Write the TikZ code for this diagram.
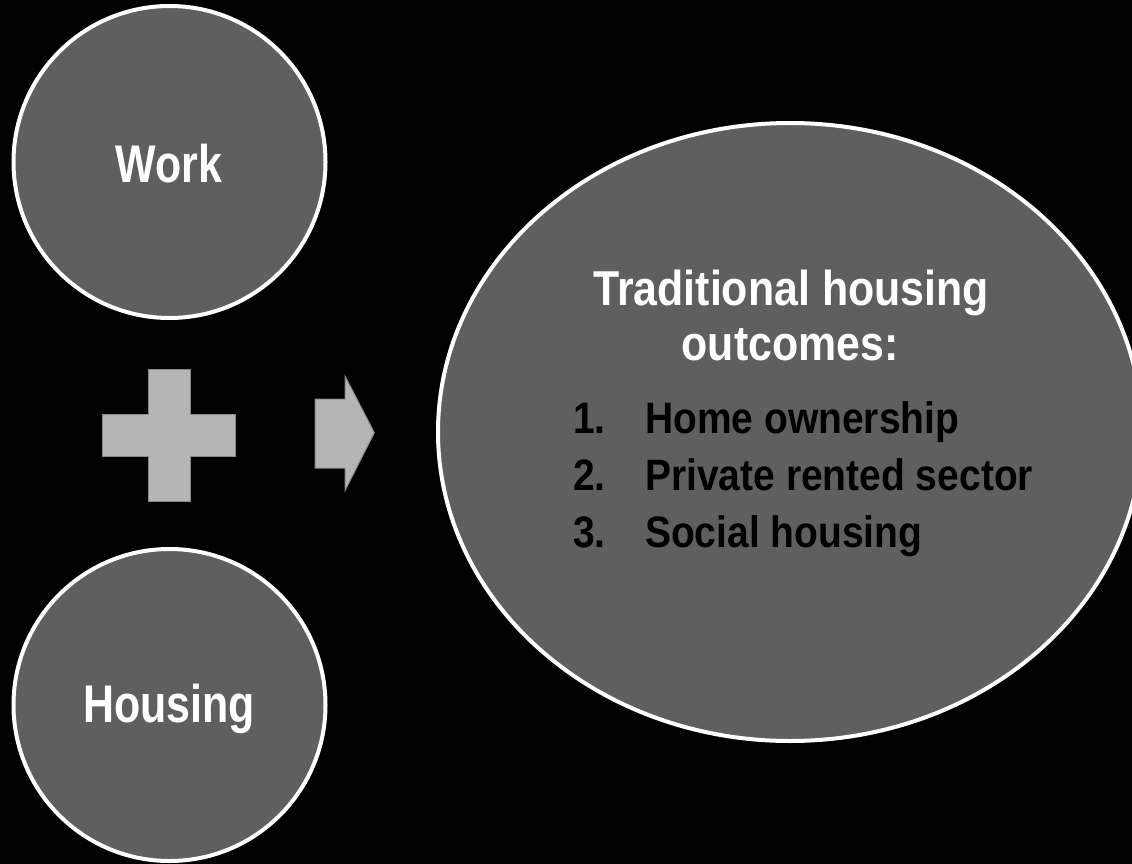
\documentclass[tikz,border=0pt]{standalone}
\usepackage{fontspec}
\setmainfont{Liberation Sans}
\newfontfamily\discfont{Liberation Sans}[FakeStretch=0.81]
\newfontfamily\headfont{Liberation Sans}[FakeStretch=0.875]
\newfontfamily\itemfont{Liberation Sans}[FakeStretch=0.886]
\usetikzlibrary{shapes.geometric}

\definecolor{discfill}{HTML}{5F5F5F}
\definecolor{signfill}{HTML}{B5B5B5}
\definecolor{signedge}{HTML}{8A8A8A}

\tikzset{
  disc/.style={circle, draw=white, line width=4pt, fill=discfill,
               minimum size=312pt, inner sep=0pt},
  bigdisc/.style={ellipse, draw=white, line width=4pt, fill=discfill,
                  minimum width=704pt, minimum height=618pt, inner sep=0pt},
  sign/.style={fill=signfill, draw=signedge, line width=1pt, line join=miter},
  disclabel/.style={anchor=base, inner sep=0pt, text=white,
                    font=\discfont\bfseries\fontsize{53}{60}\selectfont},
  headline/.style={anchor=base, inner sep=0pt, text=white,
                   font=\headfont\bfseries\fontsize{49}{55}\selectfont},
  listitem/.style={anchor=base west, inner sep=0pt, text=black,
                   font=\itemfont\bfseries\fontsize{44}{57}\selectfont}
}

\begin{document}
\begin{tikzpicture}[x=1pt, y=-1pt]
  % background and frame
  \fill[black] (0,0) rectangle (1132,864);
  \useasboundingbox (0,0) rectangle (1132,864);
  \clip (0,0) rectangle (1132,864);

  % the two input discs
  \node[disc] (work) at (169.5,162) {};
  \node[disc] (housing) at (169.5,705) {};
  \node[disclabel] (worklabel) at (169,182) {Work};
  \node[disclabel] (housinglabel) at (169,722.5) {Housing};

  % plus sign
  \draw[sign] (148.3,369) -- (190.3,369) -- (190.3,414) -- (235.7,414)
    -- (235.7,456.7) -- (190.3,456.7) -- (190.3,501.7) -- (148.3,501.7)
    -- (148.3,456.7) -- (102.7,456.7) -- (102.7,414) -- (148.3,414) -- cycle;

  % block arrow
  \draw[sign] (315,399) -- (345,399) -- (345,376) -- (374.3,432.7)
    -- (345,490.7) -- (345,468) -- (315,468) -- cycle;

  % outcome disc
  \node[bigdisc] (outcomes) at (790,432) {};
  \node[headline] (head1) at (791,305) {Traditional housing};
  \node[headline] (head2) at (790,360) {outcomes:};
  \node[listitem] (item1) at (573,433) {\makebox[72pt][l]{1.}Home ownership};
  \node[listitem] (item2) at (573,490) {\makebox[72pt][l]{2.}Private rented sector};
  \node[listitem] (item3) at (573,547) {\makebox[72pt][l]{3.}Social housing};
\end{tikzpicture}
\end{document}
